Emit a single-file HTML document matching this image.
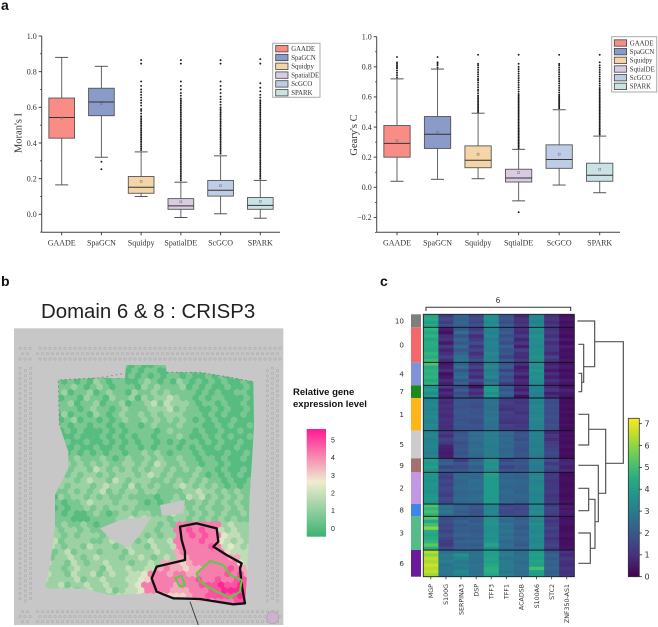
<!DOCTYPE html>
<html lang="en">
<head>
<meta charset="utf-8">
<title>Spatial gene expression figure</title>
<style>
html,body{margin:0;padding:0;background:#fff;width:658px;height:627px;overflow:hidden}
svg{display:block}
.serif{font-family:"Liberation Serif",serif;fill:#333}
.sans{font-family:"Liberation Sans",sans-serif}
.dv{font-family:"DejaVu Sans",sans-serif;fill:#333}
</style>
</head>
<body>
<svg id="figure" xmlns="http://www.w3.org/2000/svg" width="658" height="627" viewBox="0 0 658 627">
<rect width="658" height="627" fill="#fff"/>
<text class="sans" x="1" y="10" font-size="14" font-weight="bold" fill="#111">a</text>
<text class="sans" x="1" y="286" font-size="14" font-weight="bold" fill="#111">b</text>
<text class="sans" x="380" y="286" font-size="14" font-weight="bold" fill="#111">c</text>
<g id="moran"></g>
<g id="geary"></g>

<text class="sans" x="41" y="318" font-size="20.4" fill="#222">Domain 6 &amp; 8 : CRISP3</text>
<g transform="translate(0,265) scale(0.33333)">
  <defs>
    <clipPath id="tissueClip">
      <path clip-rule="evenodd" d="M175 345L300 338L375 340L378 300L497 300L500 322L600 322L680 335L760 350L762 480L755 600L748 700L745 870L735 1015L600 1010L450 985L330 990L250 970L135 970L150 900L165 790L165 690L205 610L205 560L178 480Z M300 790L360 765L455 755L420 810L385 850L330 820Z M480 720L555 705L550 745L485 752Z"/>
    </clipPath>
  </defs>
  <rect x="42" y="190" width="808" height="890" fill="#c7c7c7"/>
  <g id="fiducials"></g>
  <g id="spots" clip-path="url(#tissueClip)"></g>
  <path d="M178 480L175 345L300 338L375 325M500 322L600 322L680 335L760 350" fill="none" stroke="#7d6a8c" stroke-width="3" stroke-dasharray="5 9" opacity="0.7"/>
  <path d="M540 785L590 775L650 790L655 830L640 845L680 870L725 895L720 910L725 960L735 1015L700 1018L600 1002L520 1000L470 980L455 940L470 905L555 885L555 860L545 825Z" fill="none" stroke="#111" stroke-width="7" stroke-linejoin="round"/>
  <path d="M590 925L630 888L670 900L690 930L725 945L720 980L690 998L640 975L600 950Z" fill="none" stroke="#5ccb45" stroke-width="6" stroke-linejoin="round"/>
  <path d="M525 940L545 932L555 960L540 965Z" fill="none" stroke="#5ccb45" stroke-width="6" stroke-linejoin="round"/>
  <path d="M570 1010L595 1080" stroke="#444" stroke-width="3" fill="none"/>
  <circle cx="818" cy="1058" r="18" fill="#c9b4cc" stroke="#b9a0bd" stroke-width="3"/>
</g>
<text class="sans" x="293" y="395" font-size="9.5" font-weight="bold" fill="#111">Relative gene</text>
<text class="sans" x="293" y="407" font-size="9.5" font-weight="bold" fill="#111">expression level</text>
<defs>
  <linearGradient id="spatialGrad" x1="0" y1="0" x2="0" y2="1">
    <stop offset="0" stop-color="#ff1a90"/>
    <stop offset="0.49" stop-color="#efeccf"/>
    <stop offset="1" stop-color="#3cb371"/>
  </linearGradient>
  <linearGradient id="viridisGrad" x1="0" y1="1" x2="0" y2="0">
    <stop offset="0" stop-color="#440154"/>
    <stop offset="0.125" stop-color="#472d7b"/>
    <stop offset="0.25" stop-color="#3b528b"/>
    <stop offset="0.375" stop-color="#2c728e"/>
    <stop offset="0.5" stop-color="#21918c"/>
    <stop offset="0.625" stop-color="#28ae80"/>
    <stop offset="0.75" stop-color="#5ec962"/>
    <stop offset="0.875" stop-color="#addc30"/>
    <stop offset="1" stop-color="#fde725"/>
  </linearGradient>
</defs>
<rect x="306.7" y="429" width="19.3" height="107.7" fill="url(#spatialGrad)"/>
<g id="spatialTicks"></g>
<g id="heat"></g>
</svg>

<script>
/* ---------- Panel a data ---------- */
const moranCategories = ['GAADE','SpaGCN','Squidpy','SpatialDE','ScGCO','SPARK'];
const moranQ1 = [0.427,0.553,0.118,0.028,0.102,0.028];
const moranMedian = [0.543,0.630,0.152,0.047,0.135,0.050];
const moranQ3 = [0.652,0.707,0.212,0.088,0.190,0.094];
const moranLow = [0.165,0.320,0.100,-0.018,0.003,-0.022];
const moranHigh = [0.880,0.830,0.350,0.180,0.328,0.190];
const moranMean = [0.540,0.620,0.185,0.070,0.160,0.073];
const moranOutliers = [
  [],
  [0.295,0.253],
  [0.36,0.37,0.38,0.39,0.40,0.41,0.42,0.43,0.44,0.45,0.46,0.47,0.48,0.49,0.50,0.51,0.52,0.53,0.54,0.55,0.565,0.58,0.59,0.61,0.625,0.64,0.655,0.67,0.685,0.70,0.72,0.745,0.845,0.865],
  [0.19,0.20,0.21,0.22,0.23,0.24,0.25,0.26,0.27,0.28,0.29,0.30,0.31,0.32,0.33,0.34,0.35,0.36,0.37,0.38,0.39,0.40,0.41,0.42,0.43,0.44,0.45,0.46,0.47,0.48,0.49,0.50,0.51,0.52,0.53,0.54,0.55,0.56,0.57,0.58,0.59,0.60,0.61,0.62,0.63,0.64,0.65,0.665,0.68,0.70,0.72,0.745,0.845,0.865],
  [0.34,0.35,0.36,0.37,0.38,0.39,0.40,0.41,0.42,0.43,0.44,0.45,0.46,0.47,0.48,0.49,0.50,0.51,0.52,0.53,0.54,0.55,0.56,0.57,0.58,0.59,0.60,0.615,0.63,0.645,0.66,0.68,0.70,0.72,0.745,0.845,0.865],
  [0.20,0.21,0.22,0.23,0.24,0.25,0.26,0.27,0.28,0.29,0.30,0.31,0.32,0.33,0.34,0.35,0.36,0.37,0.38,0.39,0.40,0.41,0.42,0.43,0.44,0.45,0.46,0.47,0.48,0.49,0.50,0.51,0.52,0.53,0.54,0.55,0.56,0.57,0.58,0.59,0.60,0.61,0.62,0.63,0.64,0.655,0.67,0.69,0.71,0.735,0.845,0.87]
];
const moranTicks = [0,0.2,0.4,0.6,0.8,1.0];
const moranMinorTicks = [-0.1,0.1,0.3,0.5,0.7,0.9];

const gearyCategories = ['GAADE','SpaGCN','Squidpy','SqtialDE','ScGCO','SPARK'];
const gearyQ1 = [0.200,0.258,0.130,0.035,0.126,0.040];
const gearyMedian = [0.292,0.352,0.180,0.062,0.185,0.080];
const gearyQ3 = [0.410,0.470,0.275,0.120,0.282,0.160];
const gearyLow = [0.040,0.053,0.057,-0.090,0.015,-0.036];
const gearyHigh = [0.720,0.785,0.492,0.252,0.515,0.340];
const gearyMean = [0.310,0.365,0.220,0.098,0.220,0.120];
const gearyOutliers = [
  [0.73,0.745,0.76,0.775,0.79,0.80,0.81,0.82,0.83,0.865],
  [0.795,0.81,0.82,0.83,0.865],
  [0.50,0.51,0.52,0.53,0.54,0.55,0.56,0.57,0.58,0.59,0.60,0.61,0.625,0.64,0.65,0.665,0.68,0.695,0.71,0.72,0.735,0.75,0.765,0.78,0.795,0.81,0.82,0.88],
  [0.26,0.27,0.28,0.29,0.30,0.31,0.32,0.33,0.34,0.35,0.36,0.37,0.38,0.39,0.40,0.41,0.42,0.43,0.44,0.45,0.46,0.47,0.48,0.49,0.50,0.51,0.52,0.53,0.54,0.55,0.56,0.57,0.58,0.59,0.60,0.61,0.62,0.635,0.65,0.665,0.68,0.695,0.71,0.725,0.74,0.755,0.77,0.785,0.80,0.82,0.88,-0.165],
  [0.525,0.535,0.545,0.555,0.565,0.575,0.585,0.595,0.605,0.615,0.63,0.645,0.66,0.675,0.69,0.705,0.72,0.735,0.75,0.765,0.78,0.795,0.81,0.82,0.88],
  [0.35,0.36,0.37,0.38,0.39,0.40,0.41,0.42,0.43,0.44,0.45,0.46,0.47,0.48,0.49,0.50,0.51,0.52,0.53,0.54,0.55,0.56,0.57,0.58,0.59,0.60,0.61,0.62,0.63,0.64,0.65,0.66,0.675,0.69,0.705,0.72,0.735,0.75,0.765,0.78,0.795,0.81,0.83,0.88]
];
const gearyTicks = [-0.2,0,0.2,0.4,0.6,0.8,1.0];
const gearyMinorTicks = [-0.3,-0.1,0.1,0.3,0.5,0.7,0.9];

const methodColors = ['#f98d85','#8a9bc9','#f5d5a8','#d9cbe2','#bdcde6','#c9e3e5'];

/* ---------- Panel b data: one digit per spot, relative expression in 0.6 steps ---------- */
const spatialSpotRows = [
"0101010101010101001101010101010101",
"1010101010101010110010101010101010",
"0101010101010010101011010010101010",
"1010101021011001210102101010100101",
"0101121012101110212111201010010010",
"1012011201211021121211110101001100",
"0120110211021120212232110101100010",
"1011201120112011231322210110100100",
"0121110121101211122231211001010010",
"1102011021012112121222111010100100",
"0110120110101211212121210101001000",
"1011011011010110121112111001010010",
"0100101000101011110121110100100100",
"0010010001010101101112100101010010",
"0000100100101010110101011010100100",
"0100010010010110101110101001001000",
"1011010101011011212101110100010010",
"0122121112101211212112110110100100",
"1211212121211221213211211011010000",
"1112122132121212122121212110100100",
"0212121221212221232121112101010100",
"0122212322132122211212121211010010",
"0112122212322131212112321212101010",
"0011212123121221221111223221212110",
"0102122121211211110112132312121210",
"0110112322212221010122112121212110",
"0101011212122121111001212121121210",
"1010100121012212211232212121211210",
"1211100011112232322212212121212110",
"1212112101112121221217777777232221",
"2121221211121221221227787877323222",
"1221212221212132121227787877433221",
"2131222211232121232237777877432322",
"1321221322212322132237777787343232",
"2212312221222132223226777777753332",
"2122321232221223212326677777766332",
"2322132122322212232666567777777432",
"3221232221322322336766566777787643",
"2322132231232233477767766777787865",
"3222231223222334577777778778778887",
"2223122322322234777776777888988988",
"3222312322312334777766677788999898",
"2312232232223334665555567788888989",
"2322122322312333444455556667778888"
];
const spatialScaleValues = [5,4,3,2,1,0];
const spatialColorStops = [[-0.47,[60,179,113]],[2.64,[239,236,207]],[5.6,[255,26,144]]];
const spotUnit = 0.6;

/* ---------- Panel c data ---------- */
const heatGenes = ['MGP','S100G','SERPINA3','DSP','TFF3','TFF1','ACADSB','S100A6','STC2','ZNF350-AS1'];
const clusterLabels = ['10','0','4','7','1','5','9','2','8','3','6'];
const clusterSizes = [39,105,69,38,98,83,42,95,37,101,80];
const clusterColors = ['#7f7f7f','#f4676a','#7f93d6','#1a8a1a','#ffb51a','#cccccc','#a67070','#c497e6','#3f86e6','#55bb88','#6a1a9a'];
const heatRowsByCluster = [
[[4.2,1.2,2.3,1.4,3.5,1.8,0.7,3.3,1.0,0.3],[4.4,1.6,2.2,1.7,3.6,2.0,1.1,3.3,1.2,0.5],[4.1,1.3,2.4,1.5,3.4,1.7,1.0,3.2,0.9,0.3],[4.3,1.7,2.2,1.8,3.5,2.1,1.2,3.4,1.2,0.4]],
[[4.7,0.6,2.0,1.2,3.3,1.9,1.0,3.6,1.1,0.3],[4.3,0.3,2.6,1.6,3.2,2.2,0.8,3.4,1.3,0.4],[4.6,0.9,1.8,0.9,3.4,1.7,1.3,3.7,1.0,0.2],[4.2,1.1,2.4,1.3,3.0,2.1,0.7,3.5,1.4,0.5],[4.5,0.5,2.0,1.7,3.3,1.6,1.2,3.5,0.9,0.2],[4.4,1.2,2.5,1.1,3.2,2.3,0.6,3.4,1.3,0.6],[4.3,0.7,1.9,1.5,3.1,1.8,1.4,3.6,1.2,0.3],[4.7,1.0,2.3,1.0,3.4,2.0,1.0,3.5,0.8,0.4],[4.4,1.4,2.7,1.4,3.2,1.5,0.9,3.7,1.5,0.3],[4.9,0.9,2.8,1.8,3.3,2.2,1.3,3.5,1.1,0.5]],
[[5.2,0.4,2.2,1.0,3.2,1.9,1.0,3.7,0.6,0.3],[4.4,0.6,2.7,1.5,3.4,2.2,0.5,3.5,0.9,0.5],[4.6,1.0,1.9,0.9,3.0,1.4,0.7,3.8,0.5,0.2],[4.5,0.3,2.4,1.3,3.2,2.1,1.1,3.5,1.0,0.4],[4.7,0.5,2.6,0.8,3.4,1.6,0.5,3.7,0.6,0.3],[4.3,0.9,2.0,1.6,2.7,2.0,0.9,3.5,1.1,0.6],[4.6,0.6,2.3,1.1,3.0,1.2,0.7,3.4,0.7,0.4]],
[[3.6,1.3,1.5,0.4,3.8,2.2,0.9,3.2,0.8,0.3],[4.0,0.5,2.2,1.2,4.0,1.9,0.6,3.3,1.2,0.7],[3.5,0.9,1.6,0.8,3.6,2.3,1.1,3.1,0.6,0.5],[3.9,0.6,2.0,1.3,3.9,2.0,0.3,3.2,1.0,0.4]],
[[3.2,1.0,1.9,1.9,2.7,1.3,1.2,3.3,1.7,0.3],[3.3,0.8,2.0,1.8,2.8,1.4,1.1,3.2,1.6,0.2],[3.4,1.1,1.8,1.7,2.7,1.2,1.3,3.4,1.8,0.3],[3.2,0.9,1.9,1.9,2.6,1.0,1.2,3.3,1.7,0.2],[3.3,1.0,2.0,1.8,2.8,1.4,1.0,3.2,1.6,0.3],[3.4,0.8,1.9,2.0,2.7,1.3,1.3,3.3,1.8,0.2],[3.3,1.1,1.8,1.8,2.9,1.2,1.2,3.4,1.7,0.3],[3.2,1.0,2.0,1.7,2.7,1.0,1.1,3.3,1.6,0.2],[3.4,0.9,1.9,1.9,2.6,1.4,1.2,3.2,1.8,0.3],[3.3,1.0,1.9,1.8,2.7,1.3,1.3,3.3,1.7,0.2]],
[[3.2,1.3,1.8,2.6,3.1,2.5,1.8,3.2,0.8,0.3],[3.3,0.9,2.0,2.5,3.0,2.3,1.9,3.1,1.2,0.2],[3.1,1.4,2.1,2.6,3.0,2.5,1.7,3.2,0.9,0.3],[3.2,1.2,1.7,2.4,3.1,2.4,2.0,3.1,1.3,0.2],[3.3,0.7,1.9,2.5,3.0,2.5,1.9,3.0,1.4,0.4],[3.2,0.6,2.0,2.6,3.0,2.3,1.8,3.2,1.5,0.2],[3.1,0.5,1.8,2.5,3.1,2.4,2.0,3.1,1.6,0.3],[3.3,0.6,2.1,2.4,3.0,2.5,1.9,3.0,1.5,0.2]],
[[4.0,2.0,1.2,2.2,3.7,1.5,1.9,3.0,1.7,0.7],[3.8,2.3,1.9,2.5,3.6,2.0,2.0,3.1,1.2,0.8],[4.1,1.5,1.6,2.1,3.7,1.4,1.8,2.9,1.6,0.6],[3.7,2.1,2.0,2.4,3.5,1.9,2.0,3.0,1.4,0.8]],
[[3.8,1.5,2.4,2.5,4.1,2.4,2.3,3.3,1.2,0.2],[3.7,1.3,2.5,2.4,4.0,2.3,2.2,3.4,1.3,0.3],[3.6,1.6,2.3,2.6,3.9,2.5,2.4,3.2,1.1,0.3],[3.8,1.4,2.4,2.5,3.9,2.4,2.3,3.3,1.2,0.2],[3.7,1.6,2.5,2.6,4.0,2.3,2.3,3.4,1.2,0.3],[3.6,1.5,2.3,2.4,3.9,2.5,2.2,3.3,1.3,0.3],[3.8,1.3,2.4,2.5,4.0,2.4,2.4,3.2,1.1,0.2],[3.9,1.6,2.5,2.6,3.9,2.3,2.3,3.3,1.2,0.3],[3.7,1.5,2.4,2.5,4.0,2.5,2.2,3.4,1.3,0.4]],
[[5.2,2.8,2.2,1.9,3.3,1.5,1.6,3.4,1.3,0.5],[4.8,2.6,2.3,2.0,3.3,1.7,1.5,3.3,1.5,0.4],[5.1,2.9,2.1,1.8,3.4,1.5,1.7,3.5,1.4,0.6],[4.6,2.5,2.2,1.9,3.3,1.7,1.6,3.4,1.3,0.5]],
[[5.3,1.6,1.9,2.1,3.6,2.6,2.1,3.4,1.4,0.3],[4.3,1.8,2.3,2.0,3.7,2.4,2.3,3.3,1.1,0.4],[5.0,1.5,2.0,2.2,3.7,2.8,2.2,3.5,1.3,0.3],[5.9,1.7,2.2,2.1,3.6,2.6,2.0,3.4,1.5,0.2],[4.4,1.4,2.1,2.0,3.6,2.9,2.3,3.3,1.2,0.3],[4.2,1.8,2.4,2.2,3.7,2.5,2.1,3.5,1.4,0.4],[4.4,1.5,2.0,2.1,3.6,2.7,2.3,3.4,1.1,0.2],[4.7,1.3,2.3,2.3,3.8,2.4,2.2,3.3,1.3,0.3],[5.4,1.2,2.1,2.0,4.2,2.6,2.0,3.5,1.5,0.3],[4.5,1.7,2.2,2.2,3.6,2.5,2.4,3.4,1.2,0.4]],
[[6.4,2.6,2.7,2.6,4.1,2.9,2.5,3.9,1.9,1.1],[6.0,3.0,3.7,2.8,4.1,3.1,2.6,4.1,2.3,0.8],[6.5,2.9,3.3,2.7,4.2,2.8,2.7,4.0,2.1,1.2],[6.3,3.1,2.9,2.6,4.1,3.0,2.5,4.2,2.3,1.0],[6.7,2.7,3.1,2.8,4.3,3.1,2.6,4.1,2.2,0.9],[6.4,2.9,2.9,2.7,4.5,3.0,2.7,5.0,2.4,1.2],[6.6,2.9,3.4,2.6,4.5,2.8,2.5,4.1,2.1,1.0],[6.2,2.8,3.2,2.8,4.2,3.2,2.6,4.0,2.3,1.1]]
];
const colorbarTicks = [0,1,2,3,4,5,6,7];
const viridisStops = [[68,1,84],[72,40,120],[62,74,137],[49,104,142],[38,130,142],[31,158,137],[53,183,121],[109,205,89],[180,222,44],[253,231,37]];
const heatMax = 7.25;

/* ---------- helpers ---------- */
const NS = 'http://www.w3.org/2000/svg';
function add(parent, tag, attrs, text) {
  const el = document.createElementNS(NS, tag);
  for (const k in attrs) el.setAttribute(k, attrs[k]);
  if (text !== undefined) el.textContent = text;
  parent.appendChild(el);
  return el;
}
const fmt = v => v.toFixed(1).replace('-', '\u2212');

function drawBoxPanel(root, cfg) {
  const y = cfg.y, x = cfg.x, axisColor = '#444';
  const yAxis = add(root, 'line', {x1:cfg.left, x2:cfg.left, y1:y(1), y2:cfg.bottom, stroke:axisColor, 'stroke-width':1});
  
  
  const xAxis = add(root, 'line', {x1:cfg.left, x2:cfg.right, y1:cfg.bottom, y2:cfg.bottom, stroke:axisColor, 'stroke-width':1});
  
  
  const title = add(root, 'text', {class:'serif', 'font-size':10.5, 'text-anchor':'middle', transform:'translate(' + cfg.titleX + ',' + cfg.titleY + ') rotate(-90)'}, cfg.title);
  
  
  cfg.ticks.forEach(t => {
    const tick = add(root, 'line', {x1:cfg.left - 3, x2:cfg.left, y1:y(t), y2:y(t), stroke:axisColor, 'stroke-width':1});
    
    
    const lab = add(root, 'text', {class:'serif', x:cfg.left - 5, y:y(t) + 2.8, 'font-size':8, 'text-anchor':'end'}, fmt(t));
    
    
  });
  cfg.minor.forEach(t => {
    const tick = add(root, 'line', {x1:cfg.left - 1.7, x2:cfg.left, y1:y(t), y2:y(t), stroke:axisColor, 'stroke-width':0.8});
    
    
  });
  cfg.categories.forEach((c, i) => {
    const cx = x(i), w = cfg.boxWidth, cap = cfg.capWidth;
    const g = add(root, 'g', {});
    
    
    const whisker = add(g, 'line', {x1:cx, x2:cx, y1:y(cfg.low[i]), y2:y(cfg.high[i]), stroke:'#666', 'stroke-width':1});
    
    
    [cfg.low[i], cfg.high[i]].forEach(v => {
      const capLine = add(g, 'line', {x1:cx - cap / 2, x2:cx + cap / 2, y1:y(v), y2:y(v), stroke:'#555', 'stroke-width':1});
      
      
    });
    const box = add(g, 'rect', {x:cx - w / 2, y:y(cfg.q3[i]), width:w, height:y(cfg.q1[i]) - y(cfg.q3[i]), fill:cfg.colors[i], stroke:'#555', 'stroke-width':0.9});
    
    
    const median = add(g, 'line', {x1:cx - w / 2, x2:cx + w / 2, y1:y(cfg.median[i]), y2:y(cfg.median[i]), stroke:'#333', 'stroke-width':1});
    
    
    const mean = add(g, 'rect', {x:cx - 1, y:y(cfg.mean[i]) - 1, width:2, height:2, fill:'none', stroke:'#777', 'stroke-width':0.5});
    
    
    cfg.outliers[i].forEach(v => {
      const dot = add(g, 'circle', {cx:cx, cy:y(v), r:0.95, fill:'#1a1a1a'});
      
      
    });
    const tick = add(root, 'line', {x1:cx, x2:cx, y1:cfg.bottom, y2:cfg.bottom + 3, stroke:axisColor, 'stroke-width':1});
    
    
    const lab = add(root, 'text', {class:'serif', x:cx, y:cfg.bottom + 13, 'font-size':8, 'text-anchor':'middle'}, c);
    
    
  });
  const lg = add(root, 'g', {});
  
  
  const frame = add(lg, 'rect', {x:cfg.legendX, y:cfg.legendY, width:cfg.legendW, height:cfg.legendH, fill:'#fff', stroke:'#aaa', 'stroke-width':1});
  
  
  cfg.categories.forEach((c, i) => {
    const ry = cfg.legendFirst + i * cfg.legendStep;
    const sw = add(lg, 'rect', {x:cfg.swatchX, y:ry - 3.2, width:12.3, height:6.4, fill:cfg.colors[i], stroke:'#444', 'stroke-width':0.8});
    
    
    const tx = add(lg, 'text', {class:'serif', x:cfg.swatchX + 15.5, y:ry + 2.3, 'font-size':6.8}, c);
    
    
  });
}

/* ---------- Panel a ---------- */
drawBoxPanel(document.getElementById('moran'), {
  title:"Moran's I", titleX:21.5, titleY:133,
  left:41.7, right:280, bottom:232.3, boxWidth:25.7, capWidth:13,
  y:v => 214.3 - v * 178.3, x:i => 61.7 + i * 39.72,
  categories:moranCategories, q1:moranQ1, median:moranMedian, q3:moranQ3, low:moranLow, high:moranHigh, mean:moranMean,
  outliers:moranOutliers, ticks:moranTicks, minor:moranMinorTicks, colors:methodColors,
  legendX:272.7, legendY:43.3, legendW:47.3, legendH:54, swatchX:275.7, legendFirst:48.7, legendStep:8.8
});
drawBoxPanel(document.getElementById('geary'), {
  title:"Geary's C", titleX:357, titleY:135,
  left:376.7, right:620, bottom:232.3, boxWidth:26.3, capWidth:13,
  y:v => 187.3 - v * 150.6, x:i => 397 + i * 40.54,
  categories:gearyCategories, q1:gearyQ1, median:gearyMedian, q3:gearyQ3, low:gearyLow, high:gearyHigh, mean:gearyMean,
  outliers:gearyOutliers, ticks:gearyTicks, minor:gearyMinorTicks, colors:methodColors,
  legendX:611.7, legendY:36.7, legendW:45, legendH:55.3, swatchX:614.3, legendFirst:43, legendStep:8.67
});

/* ---------- Panel b ---------- */
function spatialColor(v) {
  const s = spatialColorStops;
  const seg = v <= s[1][0] ? 0 : 1;
  const t = Math.max(0, Math.min(1, (v - s[seg][0]) / (s[seg + 1][0] - s[seg][0])));
  const c = s[seg][1].map((a, k) => Math.round(a + (s[seg + 1][1][k] - a) * t));
  return 'rgb(' + c.join(',') + ')';
}
const fiducialGroup = document.getElementById('fiducials');
function fiducial(fx, fy) {
  const f = add(fiducialGroup, 'circle', {cx:fx, cy:fy, r:3.6, fill:'none', stroke:'#a9a9a9', 'stroke-width':1.6});
  
  
}
[250, 266, 282, 1040, 1055, 1070].forEach((fy, row) => {
  for (let fx = 60 + (row % 2) * 7.5; fx < 842; fx += 15) {
    if (Math.abs(fx - 100) > 7) fiducial(fx, fy);
  }
});
[60, 76, 92, 802, 817, 832].forEach((fx, col) => {
  for (let fy = 310 + (col % 2) * 7.5; fy < 1012; fy += 15) fiducial(fx, fy);
});
const spotGroup = document.getElementById('spots');
const tissueBase = add(spotGroup, 'rect', {x:120, y:290, width:660, height:740, fill:'#8fd0a0'});


const hexR = 11.2, hexDx = 19.2, hexDy = 16.5;
spatialSpotRows.forEach((row, r) => {
  [...row].forEach((d, c) => {
    const cx = 126 + hexDx * c + (r % 2 ? hexDx / 2 : 0), cy = 300 + hexDy * r;
    const pts = [0,1,2,3,4,5].map(k => {
      const a = Math.PI / 6 + k * Math.PI / 3;
      return (cx + hexR * Math.cos(a)).toFixed(1) + ',' + (cy + hexR * Math.sin(a)).toFixed(1);
    }).join(' ');
    const hex = add(spotGroup, 'polygon', {points:pts, fill:spatialColor(Number(d) * spotUnit)});
    
    
  });
});
const spatialTicksGroup = document.getElementById('spatialTicks');
const spatialLegendY = v => 528.3 - v * 17.66;
spatialScaleValues.forEach(v => {
  const t = add(spatialTicksGroup, 'text', {class:'sans', x:331, y:spatialLegendY(v) + 2.5, 'font-size':7, fill:'#222'}, String(v));
  
  
});

/* ---------- Panel c ---------- */
const heatRoot = document.getElementById('heat');
const heatLeft = 423.3, heatTop = 314.3, heatBottom = 576.7, heatRight = 574.3;
const heatColW = (heatRight - heatLeft) / heatGenes.length;
const heatX = j => heatLeft + j * heatColW;
const totalCells = clusterSizes.reduce((a, b) => a + b, 0);
const heatY = cells => heatTop + cells / totalCells * (heatBottom - heatTop);
function viridis(v) {
  const p = Math.max(0, Math.min(1, v / heatMax)) * (viridisStops.length - 1);
  const i = Math.min(viridisStops.length - 2, Math.floor(p)), t = p - i;
  const c = viridisStops[i].map((a, k) => Math.round(a + (viridisStops[i + 1][k] - a) * t));
  return 'rgb(' + c.join(',') + ')';
}
let cellCursor = 0;
clusterLabels.forEach((label, ci) => {
  const size = clusterSizes[ci], y0 = heatY(cellCursor), y1 = heatY(cellCursor + size);
  const rows = heatRowsByCluster[ci], rowH = (y1 - y0) / rows.length;
  const strip = add(heatRoot, 'rect', {x:411, y:y0, width:10, height:y1 - y0, fill:clusterColors[ci]});
  
  
  const lab = add(heatRoot, 'text', {class:'dv', x:404, y:(y0 + y1) / 2 + 2.5, 'font-size':7.2, 'text-anchor':'end'}, label);
  
  
  rows.forEach((vals, ri) => {
    vals.forEach((v, j) => {
      const cell = add(heatRoot, 'rect', {x:heatX(j), y:y0 + ri * rowH, width:heatColW + 0.3, height:rowH + 0.3, fill:viridis(v)});
      
      
    });
  });
  cellCursor += size;
});
cellCursor = 0;
clusterSizes.slice(0, -1).forEach(size => {
  cellCursor += size;
  const sep = add(heatRoot, 'line', {x1:heatLeft, x2:heatRight, y1:heatY(cellCursor), y2:heatY(cellCursor), stroke:'#0d0d1a', 'stroke-width':0.9});
  
  
});
const heatFrame = add(heatRoot, 'rect', {x:heatLeft, y:heatTop, width:heatRight - heatLeft, height:heatBottom - heatTop, fill:'none', stroke:'#222', 'stroke-width':0.9});


heatGenes.forEach((g, j) => {
  const cx = heatX(j) + heatColW / 2;
  const tick = add(heatRoot, 'line', {x1:cx, x2:cx, y1:heatBottom, y2:heatBottom + 2.5, stroke:'#333', 'stroke-width':0.8});
  
  
  const lab = add(heatRoot, 'text', {class:'dv', 'font-size':6.3, 'text-anchor':'end', transform:'translate(' + (cx + 2.2) + ',584) rotate(-90)'}, g);
  
  
});
const bracket = add(heatRoot, 'path', {d:'M426 311V307.3H570.7V311', fill:'none', stroke:'#333', 'stroke-width':1});


const bracketLabel = add(heatRoot, 'text', {class:'dv', x:498, y:303, 'font-size':7.5, 'text-anchor':'middle'}, '6');


const dendro = add(heatRoot, 'g', {fill:'none', stroke:'#555', 'stroke-width':1, transform:'translate(380,265) scale(0.33333)'});


const dendroPath = add(dendro, 'path', {'stroke-width':3.6, d:'M592 168H644V305H611 M595 238H611V352H605 M595 325H605V380H595 M644 230H730V595H677 M595 448H626V540H595 M626 493H677V685H655 M595 601H655V770H645 M595 670H626V737H595 M626 703H645V850H631 M595 804H631V895H595'});


const cbar = add(heatRoot, 'rect', {x:628.3, y:418.3, width:11, height:158.4, fill:'url(#viridisGrad)', stroke:'#333', 'stroke-width':0.8});


const cbarY = v => 576.7 - v * 21.86;
colorbarTicks.forEach(v => {
  const t = add(heatRoot, 'line', {x1:639.3, x2:642, y1:cbarY(v), y2:cbarY(v), stroke:'#333', 'stroke-width':0.8});
  
  
  const l = add(heatRoot, 'text', {class:'dv', x:644.5, y:cbarY(v) + 2.8, 'font-size':8}, String(v));
  
  
});
</script>
</body>
</html>
